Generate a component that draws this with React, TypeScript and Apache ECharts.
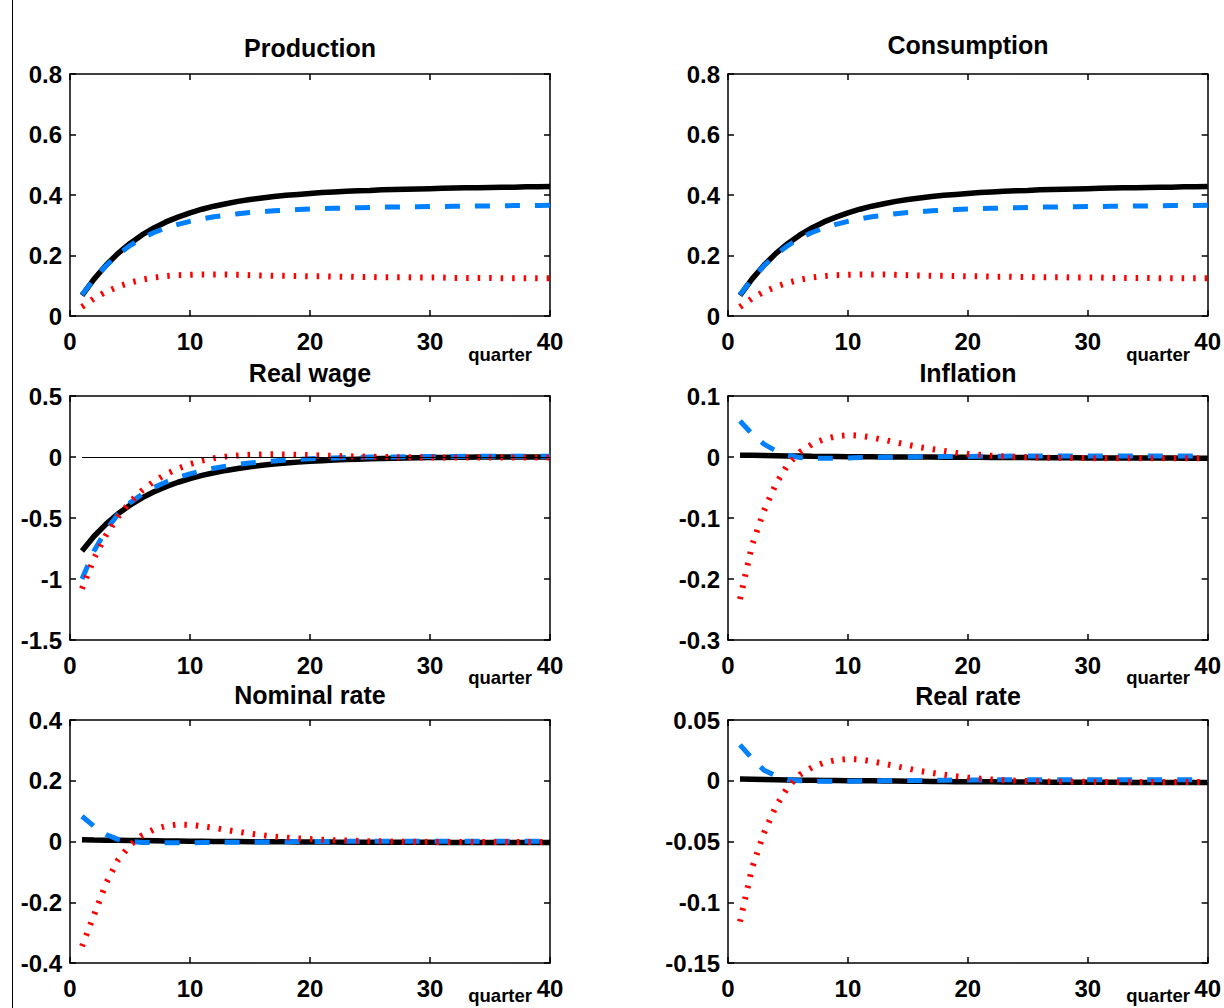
import React, { useEffect, useRef } from "react";
import * as echarts from "echarts";

const quarters = [1, 2, 3, 4, 5, 6, 7, 8, 9, 10, 11, 12, 13, 14, 15, 16, 17, 18, 19, 20, 21, 22, 23, 24, 25, 26, 27, 28, 29, 30, 31, 32, 33, 34, 35, 36, 37, 38, 39, 40];

const productionBlack = [0.068, 0.122, 0.168, 0.207, 0.240, 0.268, 0.291, 0.311, 0.327, 0.341, 0.353, 0.363, 0.371, 0.379, 0.385, 0.390, 0.395, 0.399, 0.402, 0.405, 0.408, 0.410, 0.412, 0.414, 0.415, 0.417, 0.418, 0.419, 0.420, 0.421, 0.422, 0.423, 0.424, 0.424, 0.425, 0.426, 0.426, 0.427, 0.427, 0.428];
const productionBlue = [0.070, 0.122, 0.166, 0.203, 0.233, 0.257, 0.276, 0.291, 0.303, 0.313, 0.321, 0.328, 0.333, 0.338, 0.342, 0.345, 0.348, 0.350, 0.352, 0.354, 0.355, 0.356, 0.357, 0.358, 0.359, 0.360, 0.360, 0.361, 0.361, 0.362, 0.362, 0.363, 0.363, 0.364, 0.364, 0.364, 0.365, 0.365, 0.365, 0.366];
const productionRed = [0.030, 0.058, 0.080, 0.097, 0.110, 0.120, 0.127, 0.132, 0.135, 0.136, 0.137, 0.137, 0.137, 0.136, 0.135, 0.134, 0.133, 0.133, 0.132, 0.131, 0.131, 0.130, 0.130, 0.129, 0.129, 0.128, 0.128, 0.128, 0.127, 0.127, 0.127, 0.126, 0.126, 0.126, 0.126, 0.125, 0.125, 0.125, 0.125, 0.125];

const consumptionBlack = [0.068, 0.122, 0.168, 0.207, 0.240, 0.268, 0.291, 0.311, 0.327, 0.341, 0.353, 0.363, 0.371, 0.379, 0.385, 0.390, 0.395, 0.399, 0.402, 0.405, 0.408, 0.410, 0.412, 0.414, 0.415, 0.417, 0.418, 0.419, 0.420, 0.421, 0.422, 0.423, 0.424, 0.424, 0.425, 0.426, 0.426, 0.427, 0.427, 0.428];
const consumptionBlue = [0.070, 0.122, 0.166, 0.203, 0.233, 0.257, 0.276, 0.291, 0.303, 0.313, 0.321, 0.328, 0.333, 0.338, 0.342, 0.345, 0.348, 0.350, 0.352, 0.354, 0.355, 0.356, 0.357, 0.358, 0.359, 0.360, 0.360, 0.361, 0.361, 0.362, 0.362, 0.363, 0.363, 0.364, 0.364, 0.364, 0.365, 0.365, 0.365, 0.366];
const consumptionRed = [0.030, 0.058, 0.080, 0.097, 0.110, 0.120, 0.127, 0.132, 0.135, 0.136, 0.137, 0.137, 0.137, 0.136, 0.135, 0.134, 0.133, 0.133, 0.132, 0.131, 0.131, 0.130, 0.130, 0.129, 0.129, 0.128, 0.128, 0.128, 0.127, 0.127, 0.127, 0.126, 0.126, 0.126, 0.126, 0.125, 0.125, 0.125, 0.125, 0.125];

const realWageBlack = [-0.770, -0.650, -0.550, -0.465, -0.395, -0.335, -0.285, -0.243, -0.207, -0.177, -0.151, -0.129, -0.110, -0.094, -0.080, -0.068, -0.058, -0.049, -0.042, -0.035, -0.030, -0.025, -0.021, -0.018, -0.015, -0.012, -0.010, -0.008, -0.006, -0.005, -0.004, -0.003, -0.002, -0.001, -0.001, 0.000, 0.000, 0.000, 0.001, 0.001];
const realWageBlue = [-1.000, -0.770, -0.600, -0.470, -0.375, -0.305, -0.250, -0.205, -0.168, -0.138, -0.113, -0.092, -0.075, -0.061, -0.049, -0.040, -0.032, -0.025, -0.020, -0.015, -0.011, -0.008, -0.005, -0.003, -0.001, 0.000, 0.001, 0.002, 0.003, 0.004, 0.005, 0.005, 0.006, 0.006, 0.006, 0.006, 0.006, 0.006, 0.006, 0.006];
const realWageRed = [-1.080, -0.830, -0.640, -0.490, -0.370, -0.275, -0.200, -0.140, -0.095, -0.058, -0.030, -0.010, 0.003, 0.012, 0.018, 0.021, 0.022, 0.021, 0.018, 0.015, 0.012, 0.009, 0.006, 0.004, 0.002, 0.000, -0.001, -0.002, -0.003, -0.004, -0.004, -0.005, -0.005, -0.005, -0.005, -0.005, -0.005, -0.005, -0.005, -0.005];

const inflationBlack = [0.0030, 0.0027, 0.0024, 0.0021, 0.0018, 0.0015, 0.0012, 0.0010, 0.0008, 0.0006, 0.0004, 0.0003, 0.0002, 0.0001, 0.0000, -0.0001, -0.0002, -0.0003, -0.0004, -0.0005, -0.0006, -0.0007, -0.0008, -0.0009, -0.0010, -0.0011, -0.0012, -0.0013, -0.0014, -0.0015, -0.0015, -0.0016, -0.0016, -0.0017, -0.0017, -0.0018, -0.0018, -0.0019, -0.0019, -0.0020];
const inflationBlue = [0.059, 0.038, 0.021, 0.010, 0.003, -0.001, -0.002, -0.002, -0.002, -0.0015, -0.0010, -0.0008, -0.0005, -0.0002, 0.0000, 0.0003, 0.0005, 0.0007, 0.0009, 0.0010, 0.0012, 0.0013, 0.0014, 0.0015, 0.0016, 0.0016, 0.0017, 0.0017, 0.0018, 0.0018, 0.0018, 0.0018, 0.0018, 0.0018, 0.0018, 0.0018, 0.0018, 0.0018, 0.0018, 0.0018];
const inflationRed = [-0.233, -0.145, -0.088, -0.044, -0.012, 0.008, 0.021, 0.029, 0.034, 0.036, 0.035, 0.032, 0.028, 0.024, 0.020, 0.016, 0.013, 0.010, 0.007, 0.005, 0.0035, 0.002, 0.001, 0.0003, -0.0003, -0.0008, -0.0012, -0.0015, -0.0017, -0.0019, -0.0020, -0.0020, -0.0020, -0.0020, -0.0020, -0.0020, -0.0020, -0.0020, -0.0020, -0.0020];

const nominalRateBlack = [0.006, 0.005, 0.0045, 0.004, 0.0035, 0.003, 0.0025, 0.002, 0.0015, 0.001, 0.0007, 0.0004, 0.0001, -0.0002, -0.0005, -0.0008, -0.001, -0.0012, -0.0014, -0.0016, -0.0018, -0.002, -0.0021, -0.0022, -0.0023, -0.0024, -0.0025, -0.0026, -0.0027, -0.0028, -0.0029, -0.003, -0.003, -0.003, -0.003, -0.003, -0.003, -0.003, -0.003, -0.003];
const nominalRateBlue = [0.083, 0.050, 0.023, 0.007, 0.000, -0.003, -0.004, -0.004, -0.004, -0.004, -0.0035, -0.003, -0.0027, -0.0024, -0.002, -0.0016, -0.0012, -0.0008, -0.0004, 0.000, 0.0002, 0.0004, 0.0005, 0.0006, 0.0007, 0.0008, 0.0009, 0.001, 0.001, 0.001, 0.001, 0.001, 0.001, 0.001, 0.001, 0.001, 0.001, 0.001, 0.001, 0.001];
const nominalRateRed = [-0.345, -0.242, -0.138, -0.061, -0.012, 0.020, 0.040, 0.051, 0.056, 0.055, 0.050, 0.045, 0.038, 0.032, 0.026, 0.021, 0.016, 0.013, 0.010, 0.008, 0.006, 0.004, 0.003, 0.002, 0.001, 0.0005, 0.000, -0.0005, -0.001, -0.0013, -0.0015, -0.0017, -0.0018, -0.002, -0.002, -0.002, -0.002, -0.002, -0.002, -0.002];

const realRateBlack = [0.0015, 0.0013, 0.0011, 0.0009, 0.0007, 0.0005, 0.0004, 0.0003, 0.0002, 0.0001, 0, -0.0001, -0.0002, -0.0003, -0.0004, -0.0005, -0.0006, -0.0007, -0.0008, -0.0008, -0.0009, -0.0009, -0.001, -0.001, -0.0011, -0.0011, -0.0012, -0.0012, -0.0012, -0.0013, -0.0013, -0.0013, -0.0014, -0.0014, -0.0014, -0.0014, -0.0015, -0.0015, -0.0015, -0.0015];
const realRateBlue = [0.0295, 0.0185, 0.0087, 0.0040, 0.0010, 0.0000, -0.0004, -0.0005, -0.0005, -0.0004, -0.0003, -0.0002, -0.0001, 0.0000, 0.0002, 0.0003, 0.0004, 0.0005, 0.0006, 0.0007, 0.0007, 0.0008, 0.0008, 0.0008, 0.0008, 0.0008, 0.0008, 0.0008, 0.0008, 0.0008, 0.0008, 0.0008, 0.0008, 0.0008, 0.0008, 0.0008, 0.0008, 0.0008, 0.0008, 0.0008];
const realRateRed = [-0.116, -0.072, -0.043, -0.021, -0.005, 0.005, 0.011, 0.015, 0.017, 0.018, 0.0175, 0.016, 0.014, 0.012, 0.010, 0.008, 0.0065, 0.005, 0.0037, 0.0026, 0.0017, 0.0010, 0.0005, 0.0001, -0.0002, -0.0004, -0.0006, -0.0007, -0.0008, -0.0009, -0.0010, -0.0010, -0.0010, -0.0010, -0.0010, -0.0010, -0.0010, -0.0010, -0.0010, -0.0010];

const panelTitles = ["Production", "Consumption", "Real wage", "Inflation", "Nominal rate", "Real rate"];
const xTickRange = { min: 0, max: 40, interval: 10 };
const yRanges = [
  { min: 0, max: 0.8, interval: 0.2 },
  { min: 0, max: 0.8, interval: 0.2 },
  { min: -1.5, max: 0.5, interval: 0.5 },
  { min: -0.3, max: 0.1, interval: 0.1 },
  { min: -0.4, max: 0.4, interval: 0.2 },
  { min: -0.15, max: 0.05, interval: 0.05 },
];
const xAxisName = "quarter";

const panelData = [
  [productionBlack, productionBlue, productionRed],
  [consumptionBlack, consumptionBlue, consumptionRed],
  [realWageBlack, realWageBlue, realWageRed],
  [inflationBlack, inflationBlue, inflationRed],
  [nominalRateBlack, nominalRateBlue, nominalRateRed],
  [realRateBlack, realRateBlue, realRateRed],
];
const zeroLinePanels = [false, false, true, false, false, false];

// layout
const FONT = "'Liberation Sans', Arial, Helvetica, sans-serif";
const colLefts = [70, 728];
const plotWidth = 480;
const rowTops = [74, 396, 720];
const rowHeights = [242, 244, 243];
const titleYs = [[48, 45], [373, 373], [695, 696]];
const quarterYs = [354, 677, 995];

function buildOption() {
  const grid: any[] = [];
  const xAxis: any[] = [];
  const yAxis: any[] = [];
  const series: any[] = [];
  const graphic: any[] = [];

  const axisLineStyle = { color: "#000", width: 1.5 };
  const tickStyle = { color: "#000", width: 1.5 };
  const tickLabel = { color: "#000", fontSize: 24, fontWeight: "bold", fontFamily: FONT };

  graphic.push({
    type: "line",
    shape: { x1: 12.5, y1: 0, x2: 12.5, y2: 1008 },
    style: { stroke: "#000", lineWidth: 1 },
    silent: true,
  });

  panelTitles.forEach((title, i) => {
    const row = Math.floor(i / 2);
    const col = i % 2;
    const left = colLefts[col];
    const top = rowTops[row];
    const height = rowHeights[row];
    grid.push({ left, top, width: plotWidth, height, containLabel: false });

    const xBase = {
      gridIndex: i,
      type: "value",
      min: xTickRange.min,
      max: xTickRange.max,
      interval: xTickRange.interval,
      axisLine: { show: true, onZero: false, lineStyle: axisLineStyle },
      axisTick: { show: true, inside: true, length: 6, lineStyle: tickStyle },
      splitLine: { show: false },
    };
    xAxis.push({
      ...xBase,
      position: "bottom",
      axisLabel: { show: true, margin: 13, ...tickLabel },
    });
    xAxis.push({ ...xBase, position: "top", axisLabel: { show: false } });

    const yr = yRanges[i];
    const yBase = {
      gridIndex: i,
      type: "value",
      min: yr.min,
      max: yr.max,
      interval: yr.interval,
      axisLine: { show: true, onZero: false, lineStyle: axisLineStyle },
      axisTick: { show: true, inside: true, length: 6, lineStyle: tickStyle },
      splitLine: { show: false },
    };
    yAxis.push({
      ...yBase,
      position: "left",
      axisLabel: { show: true, margin: 8, ...tickLabel },
    });
    yAxis.push({ ...yBase, position: "right", axisLabel: { show: false } });

    const [blk, blu, rd] = panelData[i];
    const toPairs = (arr: number[]) => quarters.map((q, k) => [q, arr[k]]);

    const blackSeries: any = {
      type: "line",
      xAxisIndex: 2 * i,
      yAxisIndex: 2 * i,
      data: toPairs(blk),
      showSymbol: false,
      symbol: "none",
      lineStyle: { color: "#000", width: 5.5, type: "solid" },
      z: 2,
    };
    if (zeroLinePanels[i]) {
      blackSeries.markLine = {
        silent: true,
        symbol: "none",
        label: { show: false },
        lineStyle: { color: "#000", width: 1, type: "solid" },
        data: [[{ coord: [quarters[0], 0] }, { coord: [quarters[quarters.length - 1], 0] }]],
      };
    }
    series.push(blackSeries);
    series.push({
      type: "line",
      xAxisIndex: 2 * i,
      yAxisIndex: 2 * i,
      data: toPairs(blu),
      showSymbol: false,
      symbol: "none",
      lineStyle: { color: "#0080FF", width: 5, type: [15, 15], cap: "butt" },
      z: 3,
    });
    series.push({
      type: "line",
      xAxisIndex: 2 * i,
      yAxisIndex: 2 * i,
      data: toPairs(rd),
      showSymbol: false,
      symbol: "none",
      lineStyle: { color: "#FF0000", width: 6, type: [2.5, 9], cap: "butt" },
      z: 4,
    });

    graphic.push({
      type: "text",
      x: left + plotWidth / 2,
      y: titleYs[row][col],
      style: {
        text: title,
        fill: "#000",
        fontSize: 25,
        fontWeight: "bold",
        fontFamily: FONT,
        align: "center",
        verticalAlign: "middle",
        textAlign: "center",
        textVerticalAlign: "middle",
      },
      silent: true,
    });
    graphic.push({
      type: "text",
      x: left + plotWidth - 18,
      y: quarterYs[row],
      style: {
        text: xAxisName,
        fill: "#000",
        fontSize: 18.5,
        fontWeight: "bold",
        fontFamily: FONT,
        align: "right",
        verticalAlign: "middle",
        textAlign: "right",
        textVerticalAlign: "middle",
      },
      silent: true,
    });
  });

  return {
    animation: false,
    backgroundColor: "#fff",
    grid,
    xAxis,
    yAxis,
    series,
    graphic,
  };
}

export default function App() {
  const ref = useRef<HTMLDivElement>(null);
  useEffect(() => {
    if (!ref.current) return;
    const chart = echarts.init(ref.current, null, { renderer: "svg" });
    chart.setOption(buildOption() as any);
    return () => chart.dispose();
  }, []);
  return (
    <div
      ref={ref}
      style={{ position: "absolute", left: 0, top: 0, width: 1224, height: 1008, background: "#fff" }}
    />
  );
}
